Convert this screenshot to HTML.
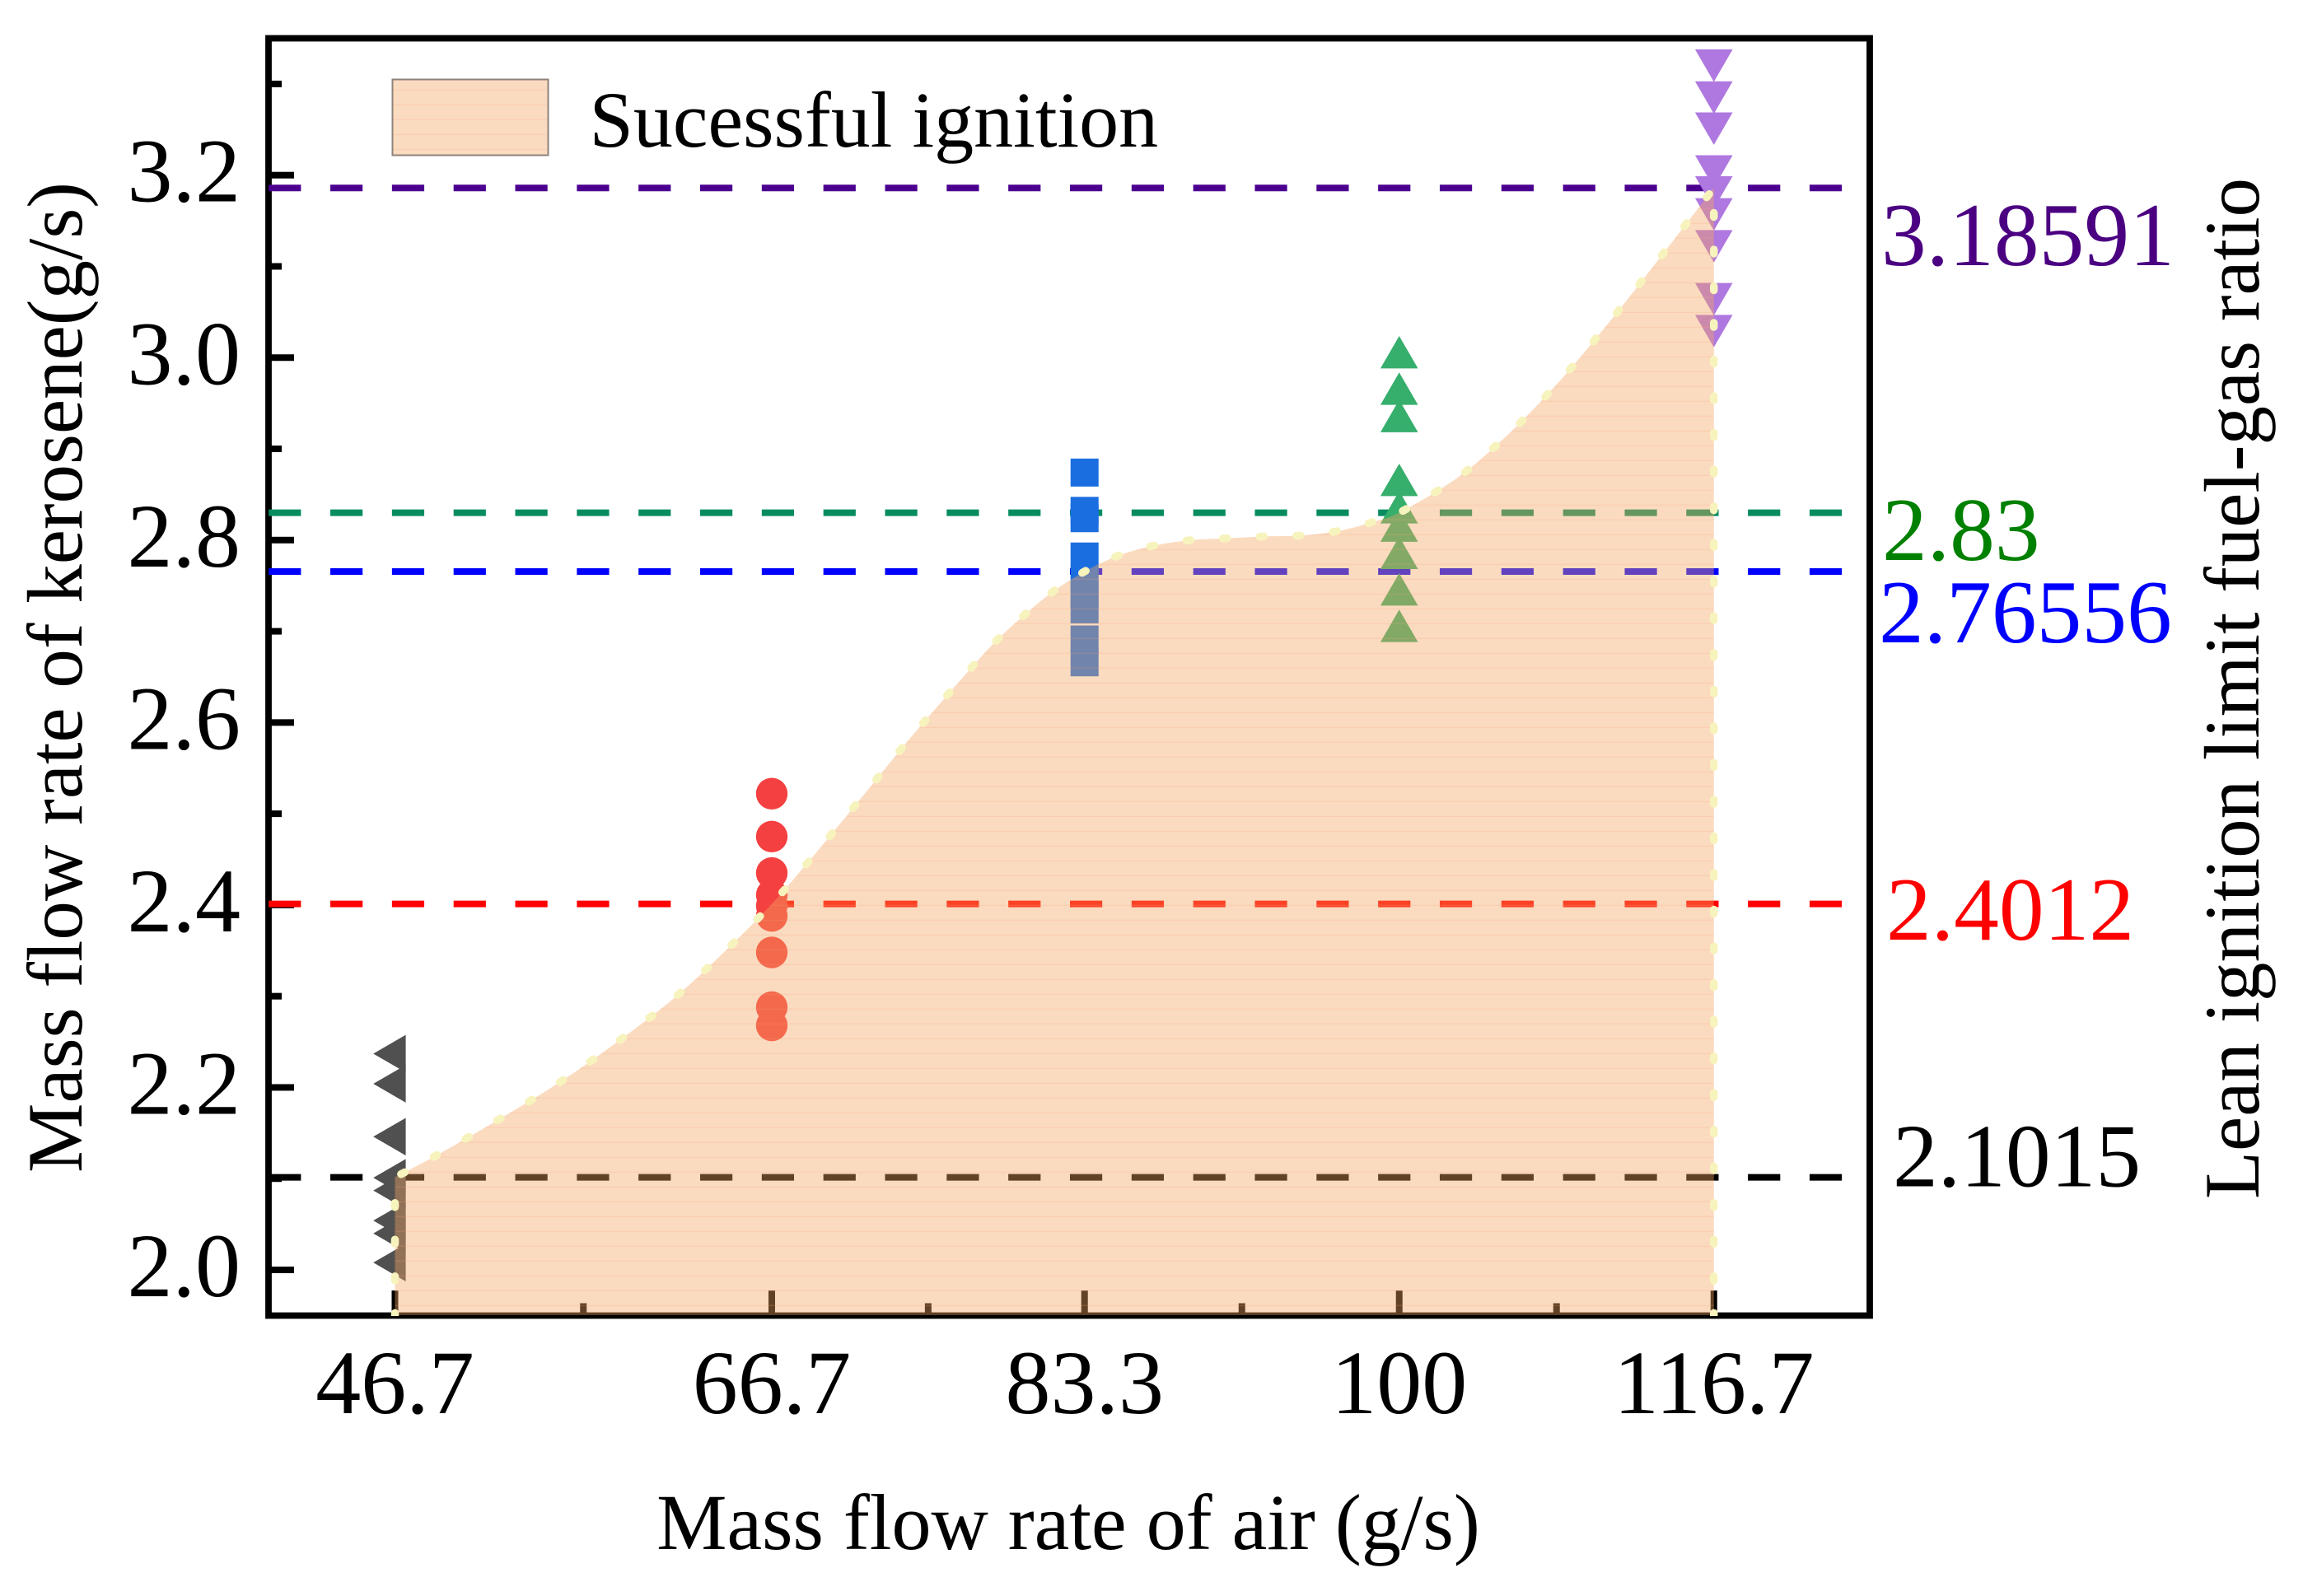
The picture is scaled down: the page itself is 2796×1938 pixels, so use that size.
<!DOCTYPE html>
<html lang="en">
<head>
<meta charset="utf-8">
<title>Lean ignition limit chart</title>
<style>
html,body{margin:0;padding:0;background:#fff;width:2796px;height:1938px;overflow:hidden}
svg{display:block}
text{font-family:"Liberation Serif","Times New Roman",serif;fill:#000}
.tick{font-size:110px}
.title{font-size:95px}
.lim{font-size:109.5px}
</style>
</head>
<body>
<svg id="chart" xmlns="http://www.w3.org/2000/svg" width="2796" height="1938" viewBox="0 0 2796 1938">
  <defs>
    <pattern id="stripes" patternUnits="userSpaceOnUse" x="0" y="0" width="40" height="18">
      <rect x="0" y="0.6" width="40" height="1.5" fill="rgb(245,160,120)" fill-opacity="0.2"></rect>
    </pattern>
    <clipPath id="plot-clip"><rect x="300" y="0" width="2000" height="1598"></rect></clipPath>
  </defs>
  <rect width="2796" height="1938" fill="#fff"></rect>
  <g id="ticks"></g>
  <rect x="326" y="46.5" width="1944" height="1551" fill="none" stroke="#000" stroke-width="7.8"></rect>
  <g id="dashes"></g>
  <g id="markers"></g>
  <g id="region"></g>
  <g id="tick-labels"></g>
  <g id="limit-labels"></g>

  <text class="title" style="font-size:96px" x="1297" y="1881" text-anchor="middle">Mass flow rate of air (g/s)</text>
  <text class="title" transform="translate(99,1424) rotate(-90)" x="0" y="0">Mass flow rate of kerosene(g/s)</text>
  <text class="title" transform="translate(2742,1456) rotate(-90)" x="0" y="0">Lean ignition limit fuel-gas ratio</text>

  <g>
    <rect x="476.5" y="96.5" width="189" height="92" fill="#F4A460" fill-opacity="0.4" stroke="#8f8279" stroke-width="2"></rect>
    <rect x="478" y="98" width="186" height="89" fill="url(#stripes)"></rect>
    <text class="title" style="font-size:96px" x="715.5" y="178">Sucessful ignition</text>
  </g>
</svg>
<script>
// Axis tick values and labels
const xTickValues = [46.7, 66.7, 83.3, 100, 116.7];
const xTickLabels = ["46.7", "66.7", "83.3", "100", "116.7"];
const xMinorValues = [56.7, 75, 91.65, 108.35];
const yTickValues = [2.0, 2.2, 2.4, 2.6, 2.8, 3.0, 3.2];
const yTickLabels = ["2.0", "2.2", "2.4", "2.6", "2.8", "3.0", "3.2"];
const yMinorValues = [2.1, 2.3, 2.5, 2.7, 2.9, 3.1, 3.3];

// Limit lines
const limitValues = [3.18591, 2.83, 2.76556, 2.4012, 2.1015];
const limitLabels = ["3.18591", "2.83", "2.76556", "2.4012", "2.1015"];

// Measurement series (kerosene mass flow, g/s)
const seriesBlack = [2.237, 2.204, 2.146, 2.101, 2.087, 2.054, 2.040, 2.008];
const seriesRed = [2.522, 2.475, 2.435, 2.411, 2.399, 2.388, 2.348, 2.288, 2.268];
const seriesBlue = [2.874, 2.832, 2.824, 2.782, 2.756, 2.74, 2.724, 2.691, 2.666];
const seriesGreen = [3.000, 2.960, 2.930, 2.860, 2.830, 2.810, 2.780, 2.740, 2.700];
const seriesPurple = [3.326, 3.291, 3.257, 3.210, 3.187, 3.163, 3.128, 3.070, 3.035];

// Ignition boundary
const boundaryAir = [46.7, 48.77, 52.14, 55.47, 58.64, 61.69, 64.5, 66.7, 68.51, 71.0, 73.45, 74.71, 77.25, 78.58, 80.0, 81.59, 83.3, 85.1, 87.01, 88.97, 90.92, 92.87, 94.81, 96.77, 98.64, 100, 102.11, 103.65, 105.11, 106.49, 107.88, 109.18, 111.7, 114.12, 116.7];
const boundaryFuel = [2.1015, 2.124, 2.164, 2.206, 2.252, 2.301, 2.355, 2.4012, 2.444, 2.506, 2.568, 2.599, 2.659, 2.689, 2.716, 2.743, 2.76556, 2.783, 2.794, 2.8, 2.802, 2.804, 2.805, 2.81, 2.82, 2.83, 2.855, 2.877, 2.903, 2.93, 2.96, 2.99, 3.053, 3.117, 3.18591];
const regionFloor = 1.9505;

// Axis functions
function xScale(v) { return 479.5 + (v - 46.7) * 22.875; }
function yScale(v) { return 1542 - (v - 2) * 1107.75; }

const NS = "http://www.w3.org/2000/svg";
function mk(tag, parent, attrs) {
  const el = document.createElementNS(NS, tag);
  for (const k in attrs) el.setAttribute(k, attrs[k]);
  parent.appendChild(el);
  return el;
}
const gTicks = document.getElementById("ticks");
const gDash = document.getElementById("dashes");
const gMark = document.getElementById("markers");
const gRegion = document.getElementById("region");
const gTL = document.getElementById("tick-labels");
const gLL = document.getElementById("limit-labels");

// Ticks
xTickValues.forEach(function (v, i) {
  const t = mk("rect", gTicks, { x: xScale(v) - 4, y: 1567, width: 8, height: 30, fill: "#000" });
  
  
  const l = mk("text", gTL, { x: xScale(v), y: 1716, "text-anchor": "middle", class: "tick" });
  l.textContent = xTickLabels[i];
  
  
});
xMinorValues.forEach(function (v) {
  const t = mk("rect", gTicks, { x: xScale(v) - 4, y: 1582.5, width: 8, height: 14, fill: "#000" });
  
  
});
yTickValues.forEach(function (v, i) {
  const t = mk("rect", gTicks, { x: 326, y: yScale(v) - 4, width: 31, height: 8, fill: "#000" });
  
  
  const l = mk("text", gTL, { x: 292, y: yScale(v) + 32, "text-anchor": "end", class: "tick" });
  l.textContent = yTickLabels[i];
  
  
});
yMinorValues.forEach(function (v) {
  const t = mk("rect", gTicks, { x: 326, y: yScale(v) - 4, width: 16, height: 8, fill: "#000" });
  
  
});

// Limit lines and their labels
const lineColors = ["#4b0090", "#068c60", "#0000ff", "#ff0000", "#000000"];
const labelColors = ["#4b0082", "#008000", "#0000ff", "#ff0000", "#000000"];
const labelX = [2284, 2285, 2281, 2290, 2298];
const labelDy = [93.5, 57.5, 86, 43.5, 11];
limitValues.forEach(function (v, i) {
  const y = yScale(v);
  const ln = mk("line", gDash, { x1: 326.2, x2: 2238, y1: y, y2: y, stroke: lineColors[i], "stroke-width": 8, "stroke-dasharray": "39.2 35.63" });
  
  
  const t = mk("text", gLL, { x: labelX[i], y: y + labelDy[i], class: "lim", style: "fill:" + labelColors[i] });
  t.textContent = limitLabels[i];
  
  
});

// Markers
const triW = 22.8, triTip = 26.3, triBase = 13.1;
function drawTriangle(cx, cy, dir, color) {
  let pts;
  if (dir === "left") pts = [[cx - triTip, cy], [cx + triBase, cy - triW], [cx + triBase, cy + triW]];
  if (dir === "up") pts = [[cx, cy - triTip], [cx - triW, cy + triBase], [cx + triW, cy + triBase]];
  if (dir === "down") pts = [[cx, cy + triTip], [cx - triW, cy - triBase], [cx + triW, cy - triBase]];
  return mk("polygon", gMark, { points: pts.map(function (p) { return p[0] + "," + p[1]; }).join(" "), fill: color });
}
seriesBlack.forEach(function (v) {
  const m = drawTriangle(xScale(46.7), yScale(v), "left", "#505050");
  
  
});
seriesRed.forEach(function (v) {
  const m = mk("circle", gMark, { cx: xScale(66.7), cy: yScale(v), r: 19.2, fill: "#f44040" });
  
  
});
seriesBlue.forEach(function (v) {
  const m = mk("rect", gMark, { x: xScale(83.3) - 17, y: yScale(v) - 17, width: 34, height: 34, fill: "#1a6ee0" });
  
  
});
seriesGreen.forEach(function (v) {
  const m = drawTriangle(xScale(100), yScale(v), "up", "#36ae6c");
  
  
});
seriesPurple.forEach(function (v) {
  const m = drawTriangle(xScale(116.7), yScale(v), "down", "#af78e0");
  
  
});

// Smooth boundary through the read points
function curveSegment() {
  const P = boundaryAir.map(function (a, i) { return [xScale(a), yScale(boundaryFuel[i])]; });
  let d = "";
  for (let i = 0; i < P.length - 1; i++) {
    const p0 = P[Math.max(0, i - 1)], p1 = P[i], p2 = P[i + 1], p3 = P[Math.min(P.length - 1, i + 2)];
    const c1 = [p1[0] + (p2[0] - p0[0]) / 6, p1[1] + (p2[1] - p0[1]) / 6];
    const c2 = [p2[0] - (p3[0] - p1[0]) / 6, p2[1] - (p3[1] - p1[1]) / 6];
    d += " C" + c1[0] + " " + c1[1] + " " + c2[0] + " " + c2[1] + " " + p2[0] + " " + p2[1];
  }
  return d;
}
const xL = xScale(boundaryAir[0]);
const xR = xScale(boundaryAir[boundaryAir.length - 1]);
const yFloor = yScale(regionFloor);
const regionPath = "M" + xL + " " + yFloor + " L" + xL + " " + yScale(boundaryFuel[0]) + curveSegment() + " L" + xR + " " + yFloor;

const area = mk("path", gRegion, { d: regionPath + " Z", fill: "#F4A460", "fill-opacity": 0.4 });


const stripes = mk("path", gRegion, { d: regionPath + " Z", fill: "url(#stripes)" });


const edge = mk("path", gRegion, { d: regionPath, fill: "none", stroke: "#f7f3bd", "stroke-width": 9.5, "stroke-linecap": "round", "clip-path": "url(#plot-clip)" });


const len = edge.getTotalLength();
const period = len / Math.round(len / 44.3);
edge.setAttribute("stroke-dasharray", "5 " + (period - 5));
edge.setAttribute("stroke-dashoffset", "2.5");
</script>
</body>
</html>
